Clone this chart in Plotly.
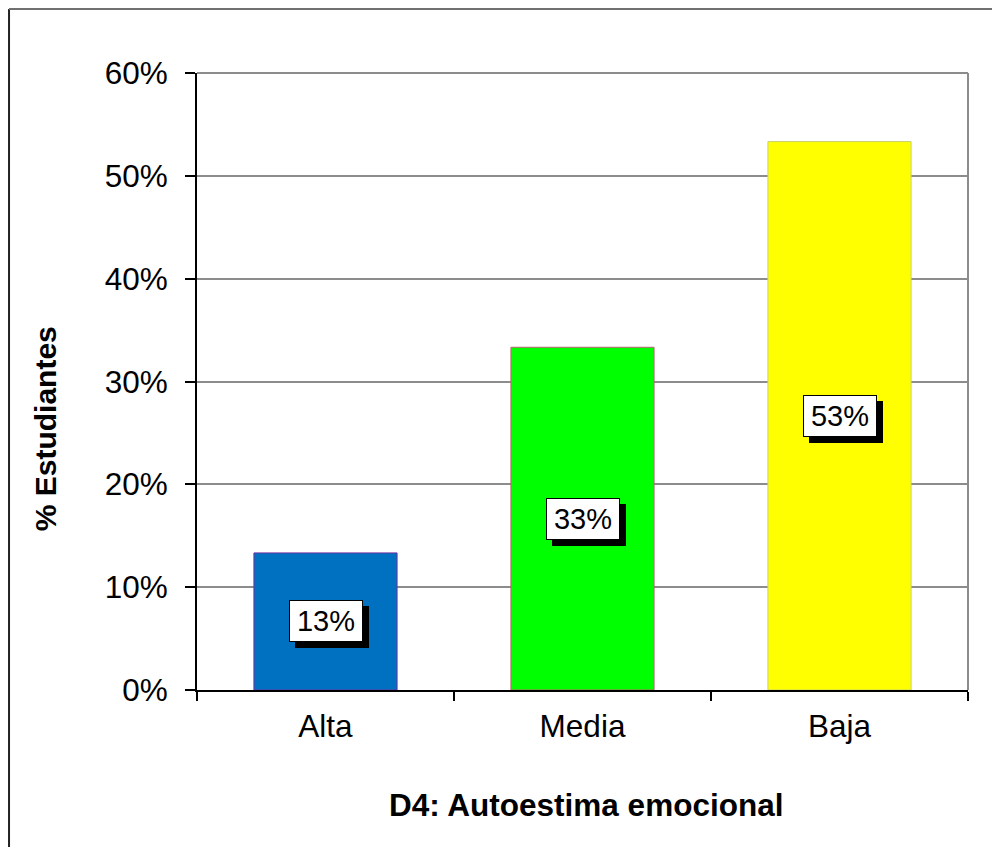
"""Bar chart: D4 Autoestima emocional, % of students per level."""

import plotly.graph_objects as go

# data
categories = ["Alta", "Media", "Baja"]
percentages = [13.33, 33.33, 53.33]
value_labels = ["13%", "33%", "53%"]
y_ticks = [0, 10, 20, 30, 40, 50, 60]
y_tick_labels = ["0%", "10%", "20%", "30%", "40%", "50%", "60%"]

bar_colors = ["#0070C0", "#00FF00", "#FFFF00"]
bar_edges = ["#7030A0", "#C06070", "#C8D070"]

FONT = "Liberation Sans, Arial, sans-serif"
GRID = "#8C8C8C"

fig = go.Figure()
fig.add_trace(
    go.Bar(
        x=categories,
        y=percentages,
        marker=dict(color=bar_colors, line=dict(color=bar_edges, width=1)),
        hoverinfo="x+y",
    )
)

# value labels: black shadow box first, white box with text on top
for cat, val, lab in zip(categories, percentages, value_labels):
    common = dict(
        x=cat, y=val / 2, xref="x", yref="y", showarrow=False,
        width=64, height=32, borderpad=4, borderwidth=1, bordercolor="black",
        font=dict(family=FONT, size=29, color="black"),
    )
    fig.add_annotation(**common, text="&nbsp;", xshift=6, yshift=-6, bgcolor="black")
    fig.add_annotation(**common, text=lab, bgcolor="white")

# axis titles
fig.add_annotation(
    x=0.505, y=-0.186, xref="paper", yref="paper", showarrow=False,
    text="<b>D4: Autoestima emocional</b>", xanchor="center", yanchor="middle",
    font=dict(family=FONT, size=31.5, color="black"),
)
fig.add_annotation(
    x=-0.196, y=0.424, xref="paper", yref="paper", showarrow=False,
    text="<b>% Estudiantes</b>", textangle=-90, xanchor="center", yanchor="middle",
    font=dict(family=FONT, size=30, color="black"),
)

# plot-area border (top and right) and outer chart frame
fig.add_shape(type="line", xref="paper", yref="paper", x0=0, x1=1, y0=1, y1=1,
              line=dict(color=GRID, width=2))
fig.add_shape(type="line", xref="paper", yref="paper", x0=1, x1=1, y0=0, y1=1,
              line=dict(color=GRID, width=2))
fig.add_shape(type="line", xref="paper", yref="paper", x0=-0.2438, x1=-0.2438,
              y0=-0.3, y1=1.1037, line=dict(color="#222222", width=2))
fig.add_shape(type="line", xref="paper", yref="paper", x0=-0.2438, x1=1.1,
              y0=1.1037, y1=1.1037, line=dict(color="#707070", width=2))

fig.update_layout(
    width=1000,
    height=847,
    margin=dict(l=189, r=40, t=65, b=165),
    paper_bgcolor="white",
    plot_bgcolor="white",
    showlegend=False,
    bargap=0.443,
    font=dict(family=FONT, size=31, color="black"),
)
fig.update_xaxes(
    type="category",
    tickson="boundaries",
    ticks="outside",
    ticklen=9,
    tickwidth=2,
    tickcolor="black",
    showline=True,
    linecolor="black",
    linewidth=2,
    showgrid=False,
    ticklabelstandoff=7,
    tickfont=dict(family=FONT, size=31.5, color="black"),
)
fig.update_yaxes(
    range=[0, 60],
    tickvals=y_ticks,
    ticktext=y_tick_labels,
    ticks="outside",
    ticklen=10,
    tickwidth=2,
    tickcolor="black",
    showline=True,
    linecolor="black",
    linewidth=2,
    showgrid=True,
    gridcolor=GRID,
    gridwidth=2,
    zeroline=False,
    ticklabelstandoff=11,
    tickfont=dict(family=FONT, size=31.5, color="black"),
)

fig.write_html("out.html")
